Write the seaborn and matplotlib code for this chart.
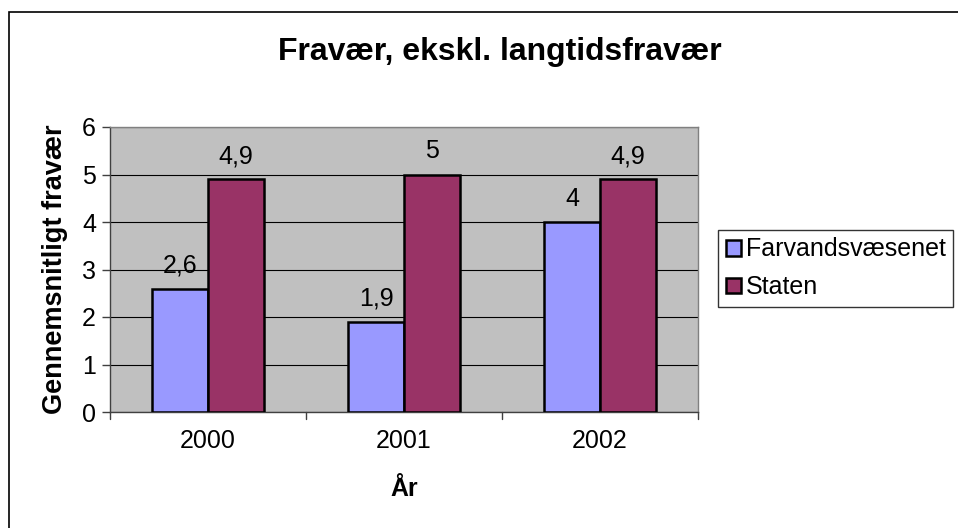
import pandas as pd
import matplotlib
matplotlib.use('Agg')
import matplotlib.pyplot as plt
import seaborn as sns
from matplotlib.patches import Rectangle

# data
aar = ['2000', '2001', '2002']
farvandsvaesenet = [2.6, 1.9, 4.0]
staten = [4.9, 5.0, 4.9]
serier = ['Farvandsvæsenet', 'Staten']
farver = ['#9999FF', '#993366']

df = pd.DataFrame({
    'aar': aar * 2,
    'fravaer': farvandsvaesenet + staten,
    'serie': [serier[0]] * 3 + [serier[1]] * 3,
})

sns.set_style('white')
plt.rcParams['font.family'] = ['Liberation Sans', 'DejaVu Sans']
plt.rcParams['text.color'] = 'black'
plt.rcParams['xtick.color'] = 'black'
plt.rcParams['ytick.color'] = 'black'
plt.rcParams['axes.labelcolor'] = 'black'

fig = plt.figure(figsize=(9.58, 5.28), dpi=100)
ax = fig.add_axes([110 / 958, 1 - 412 / 528, 588 / 958, 285 / 528])
ax.set_facecolor('#C0C0C0')

sns.barplot(data=df, x='aar', y='fravaer', hue='serie', palette=farver, saturation=1,
            width=0.57, edgecolor='black', linewidth=1.8, ax=ax, zorder=3)

# etiketter over søjlerne
for cont in ax.containers:
    labels = [f'{v:g}'.replace('.', ',') for v in cont.datavalues]
    ax.bar_label(cont, labels=labels, padding=8, fontsize=18)

ax.set_ylim(0, 6)
ax.set_yticks(range(0, 7))
ax.set_xlim(-0.5, 2.5)
ax.yaxis.grid(True, color='black', linewidth=0.8, zorder=1)
ax.set_axisbelow(True)
for s in ax.spines.values():
    s.set_color('#808080')
    s.set_linewidth(1)
ax.spines['left'].set_color('#404040')
ax.spines['bottom'].set_color('#404040')

ax.tick_params(axis='y', length=6, width=1, color='#404040', left=True, labelsize=18, pad=4)
ax.tick_params(axis='x', bottom=False, labelsize=18, pad=9)
# skillestreger mellem kategorierne
for xs in [-0.5, 0.5, 1.5, 2.5]:
    ax.plot([xs, xs], [0, -0.14], color='#404040', lw=1, clip_on=False, transform=ax.transData)

ax.set_xlabel('År', fontsize=18, fontweight='bold', labelpad=17)
ax.set_ylabel('Gennemsnitligt fravær', fontsize=19.5, fontweight='bold', labelpad=10)

fig.text(500 / 958, 1 - 52 / 528, 'Fravær, ekskl. langtidsfravær', ha='center', va='center',
         fontsize=23, fontweight='bold')

ax.legend_.remove()
handles, lbls = ax.get_legend_handles_labels()
leg = fig.legend(handles, lbls, loc='upper left', bbox_to_anchor=(718 / 958, 1 - 230 / 528),
                 fontsize=18, frameon=True, fancybox=False, handlelength=0.6, handleheight=0.6,
                 handletextpad=0.2, borderpad=0.3, labelspacing=0.55, borderaxespad=0)
leg.get_frame().set_edgecolor('black')
leg.get_frame().set_linewidth(1)

# ramme rundt om hele figuren (højre og nederste kant ligger uden for billedet)
fig.patches.append(Rectangle((9 / 958, -0.05), 1.0, 1 - 12 / 528 + 0.05, transform=fig.transFigure,
                             fill=False, edgecolor='black', linewidth=1.2))

fig.savefig('out.png', dpi=100)
